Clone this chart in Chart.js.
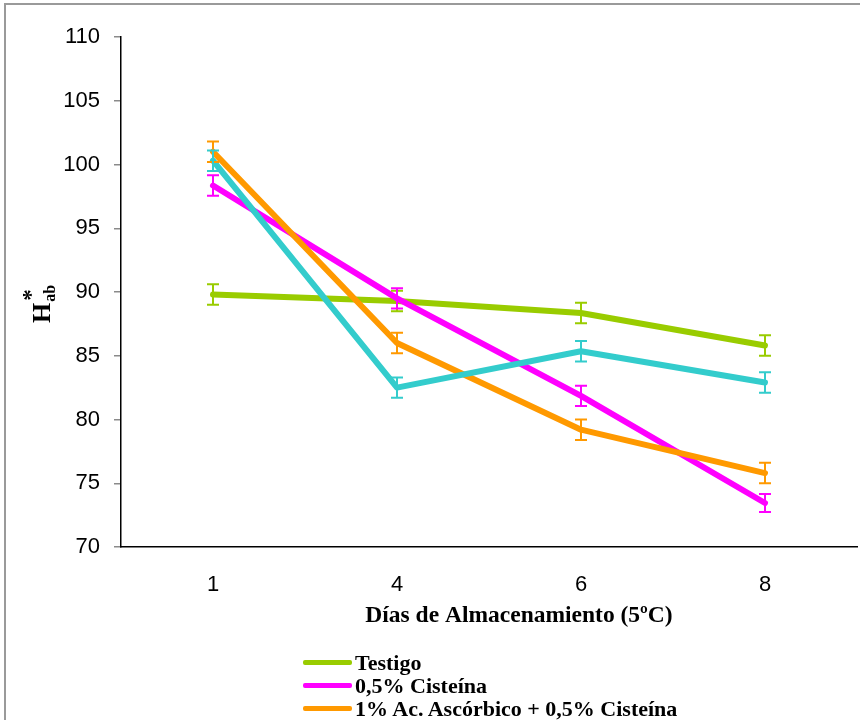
<!DOCTYPE html>
<html><head><meta charset="utf-8">
<script src="https://cdn.jsdelivr.net/npm/chart.js@4/dist/chart.umd.min.js"></script>
<style>
html,body{margin:0;padding:0;background:#fff;}
#wrap{position:relative;width:860px;height:720px;overflow:hidden;}
#legend{position:absolute;left:303px;top:651px;font:bold 22px "Liberation Serif","Times New Roman",serif;color:#000;}
.row{display:flex;align-items:center;height:23px;white-space:nowrap;}
.sw{width:49px;height:5px;border-radius:2px;margin-right:3px;flex:none;}
</style></head><body>
<div id="wrap"><canvas id="c" width="860" height="720"></canvas><div id="legend"></div></div>
<script>
const days = ['1', '4', '6', '8'];
const yTicks = [70, 75, 80, 85, 90, 95, 100, 105, 110];
const xTitleText = 'Días de Almacenamiento (5ºC)';
const seriesNames = ['Testigo', '0,5% Cisteína', '1% Ac. Ascórbico + 0,5% Cisteína', ''];
const testigo = [89.8, 89.3, 88.35, 85.8];
const testigoErr = [0.8, 0.8, 0.8, 0.8];
const cisteina = [98.35, 89.5, 81.85, 73.45];
const cisteinaErr = [0.8, 0.8, 0.8, 0.7];
const ascCis = [101.0, 86.0, 79.2, 75.8];
const ascCisErr = [0.8, 0.8, 0.8, 0.8];
const cyanSeries = [100.3, 82.5, 85.35, 82.9];
const cyanErr = [0.8, 0.8, 0.8, 0.8];
const colors = ['#99CC00', '#FF00FF', '#FF9900', '#33CCCC'];
const values = [testigo, cisteina, ascCis, cyanSeries];
const errors = [testigoErr, cisteinaErr, ascCisErr, cyanErr];

const frame = {
  id: 'frame',
  beforeDraw(chart) {
    const ctx = chart.ctx;
    ctx.save();
    ctx.strokeStyle = '#9a9a9a';
    ctx.lineWidth = 2;
    ctx.beginPath();
    ctx.moveTo(5, 720); ctx.lineTo(5, 4); ctx.lineTo(860, 4);
    ctx.stroke();
    ctx.restore();
  }
};

const errorBars = {
  id: 'errorBars',
  afterDatasetsDraw(chart) {
    const ctx = chart.ctx;
    const ys = chart.scales.y;
    ctx.save();
    chart.data.datasets.forEach((ds, di) => {
      const meta = chart.getDatasetMeta(di);
      meta.data.forEach((pt, i) => {
        const v = ds.data[i], e = ds.errs[i];
        const top = ys.getPixelForValue(v + e), bot = ys.getPixelForValue(v - e);
        ctx.strokeStyle = ds.borderColor;
        ctx.lineWidth = 2;
        ctx.beginPath();
        ctx.moveTo(pt.x, top); ctx.lineTo(pt.x, bot);
        ctx.moveTo(pt.x - 6, top); ctx.lineTo(pt.x + 6, top);
        ctx.moveTo(pt.x - 6, bot); ctx.lineTo(pt.x + 6, bot);
        ctx.stroke();
      });
    });
    ctx.restore();
  }
};

const titles = {
  id: 'titles',
  afterDraw(chart) {
    const ctx = chart.ctx;
    ctx.save();
    ctx.fillStyle = '#000';
    ctx.textBaseline = 'alphabetic';
    ctx.textAlign = 'center';
    ctx.font = 'bold 23.5px "Liberation Serif", "Times New Roman", serif';
    ctx.fillText(xTitleText, 519, 622);
    ctx.textAlign = 'left';
    ctx.translate(50, 323);
    ctx.rotate(-Math.PI / 2);
    ctx.font = 'bold 26px "Liberation Serif", "Times New Roman", serif';
    ctx.fillText('H', 0, 0);
    const w = ctx.measureText('H').width;
    ctx.font = 'bold 16px "Liberation Serif", "Times New Roman", serif';
    ctx.fillText('ab', w + 1, 5);
    ctx.font = 'bold 23px "Liberation Serif", "Times New Roman", serif';
    ctx.fillText('*', w + 2, -12);
    ctx.restore();
  }
};

const datasets = values.map((v, i) => ({
  label: seriesNames[i],
  data: v,
  errs: errors[i],
  borderColor: colors[i],
  backgroundColor: colors[i],
  borderWidth: 6,
  borderCapStyle: 'round',
  borderJoinStyle: 'round',
  pointRadius: 0,
  tension: 0,
  order: 10 - i
}));

new Chart(document.getElementById('c'), {
  type: 'line',
  data: { labels: days, datasets },
  options: {
    responsive: false,
    animation: false,
    layout: { padding: { left: 0, right: 3, top: 37, bottom: 0 } },
    plugins: { legend: { display: false }, tooltip: { enabled: false } },
    scales: {
      x: {
        type: 'category',
        offset: true,
        grid: { display: false },
        border: { display: true, color: '#000', width: 1.5 },
        ticks: { color: '#000', font: { family: '"Liberation Sans", Arial, sans-serif', size: 22 }, padding: 17 },
        afterFit(s) { s.height = 173; }
      },
      y: {
        min: 70, max: 110,
        afterBuildTicks(s) { s.ticks = yTicks.map(v => ({ value: v })); },
        grid: { drawOnChartArea: false, drawTicks: true, tickLength: 7, color: '#8a8a8a', lineWidth: 1.5 },
        border: { display: true, color: '#000', width: 1.5 },
        ticks: { color: '#000', font: { family: '"Liberation Sans", Arial, sans-serif', size: 22 }, padding: 14 },
        afterFit(s) { s.width = 121; }
      }
    }
  },
  plugins: [frame, errorBars, titles]
});

const lg = document.getElementById('legend');
[0, 1, 2].forEach(i => {
  const r = document.createElement('div'); r.className = 'row';
  const s = document.createElement('span'); s.className = 'sw'; s.style.background = colors[i];
  const t = document.createElement('span'); t.textContent = seriesNames[i];
  r.appendChild(s); r.appendChild(t); lg.appendChild(r);
});
</script>
</body></html>
